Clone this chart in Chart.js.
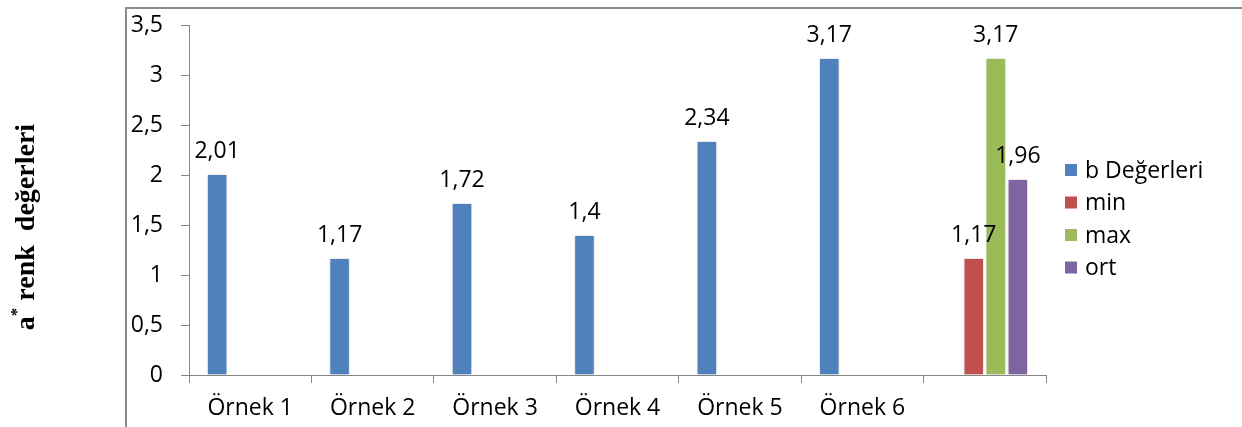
<!DOCTYPE html>
<html lang="tr">
    <head>
        <meta charset="UTF-8" />
        <title>a* renk değerleri</title>
        <script src="https://cdn.jsdelivr.net/npm/chart.js"></script>
        <style>
            html, body { margin: 0; padding: 0; background: #fff; }
            #wrap { width: 1242px; height: 427px; position: relative; }
        </style>
    </head>
    <body>
        <div id="wrap">
            <canvas id="renkChart" width="1242" height="427"></canvas>
        </div>

        <script>
            const categories = ['Örnek 1', 'Örnek 2', 'Örnek 3', 'Örnek 4', 'Örnek 5', 'Örnek 6', ''];
            const bDegerleri = [2.01, 1.17, 1.72, 1.4, 2.34, 3.17, null];
            const minValues = [null, null, null, null, null, null, 1.17];
            const maxValues = [null, null, null, null, null, null, 3.17];
            const ortValues = [null, null, null, null, null, null, 1.96];
            const seriesNames = ['b Değerleri', 'min', 'max', 'ort'];
            const seriesColors = ['#4F81BD', '#C0504D', '#9BBB59', '#8064A2'];

            const FONT = '"Open Sans", "Noto Sans", sans-serif';
            const FONT_SIZE = 23;
            const AXIS_GRAY = '#868686';

            const trNumber = (v) => String(v).replace('.', ',');

            // frame lines around the plot (left + top)
            const framePlugin = {
                id: 'frame',
                beforeDraw(chart) {
                    const ctx = chart.ctx;
                    ctx.save();
                    ctx.strokeStyle = '#8c8c8c';
                    ctx.lineWidth = 2;
                    ctx.beginPath();
                    ctx.moveTo(126, 427);
                    ctx.lineTo(126, 8);
                    ctx.lineTo(1242, 8);
                    ctx.stroke();
                    ctx.restore();
                },
            };

            // soft shadow under the bars
            const barShadow = {
                id: 'barShadow',
                beforeDatasetsDraw(chart) {
                    const ctx = chart.ctx;
                    ctx.save();
                    ctx.shadowColor = 'rgba(0,0,0,0.22)';
                    ctx.shadowBlur = 4;
                },
                afterDatasetsDraw(chart) {
                    chart.ctx.restore();
                },
            };

            // value text above each bar
            const valueLabels = {
                id: 'valueLabels',
                afterDatasetsDraw(chart) {
                    const ctx = chart.ctx;
                    ctx.save();
                    ctx.font = FONT_SIZE + 'px ' + FONT;
                    ctx.fillStyle = '#000';
                    ctx.textAlign = 'center';
                    ctx.textBaseline = 'middle';
                    chart.data.datasets.forEach((ds, i) => {
                        const meta = chart.getDatasetMeta(i);
                        meta.data.forEach((bar, j) => {
                            const v = ds.data[j];
                            if (v === null || v === undefined) return;
                            ctx.fillText(trNumber(v), bar.x, bar.y - 23);
                        });
                    });
                    ctx.restore();
                },
            };

            // legend column on the right
            const sideLegend = {
                id: 'sideLegend',
                afterDraw(chart) {
                    const ctx = chart.ctx;
                    ctx.save();
                    ctx.font = FONT_SIZE + 'px ' + FONT;
                    ctx.textBaseline = 'middle';
                    chart.data.datasets.forEach((ds, i) => {
                        const y = 170 + i * 32.5;
                        ctx.fillStyle = ds.backgroundColor;
                        ctx.fillRect(1065, y - 6, 12, 12);
                        ctx.fillStyle = '#000';
                        ctx.fillText(ds.label, 1085, y + 1);
                    });
                    ctx.restore();
                },
            };

            // rotated axis title with superscript star
            const yTitle = {
                id: 'yTitle',
                afterDraw(chart) {
                    const ctx = chart.ctx;
                    const main = 'bold 28px "Liberation Serif", "DejaVu Serif", serif';
                    const sup = 'bold 17px "Liberation Serif", "DejaVu Serif", serif';
                    const parts = [
                        { t: 'a', f: main, dy: 0 },
                        { t: '*', f: sup, dy: -12 },
                        { t: ' renk  değerleri', f: main, dy: 0 },
                    ];
                    ctx.save();
                    let total = 0;
                    parts.forEach((p) => {
                        ctx.font = p.f;
                        p.w = ctx.measureText(p.t).width;
                        total += p.w;
                    });
                    ctx.translate(34, 227);
                    ctx.rotate(-Math.PI / 2);
                    ctx.fillStyle = '#000';
                    ctx.textBaseline = 'alphabetic';
                    let x = -total / 2;
                    parts.forEach((p) => {
                        ctx.font = p.f;
                        ctx.fillText(p.t, x, p.dy);
                        x += p.w;
                    });
                    ctx.restore();
                },
            };

            const datasetValues = [bDegerleri, minValues, maxValues, ortValues];

            new Chart(document.getElementById('renkChart'), {
                type: 'bar',
                data: {
                    labels: categories,
                    datasets: seriesNames.map((name, i) => ({
                        label: name,
                        data: datasetValues[i],
                        backgroundColor: seriesColors[i],
                        borderColor: '#ffffff',
                        borderWidth: 1,
                        categoryPercentage: 0.72,
                        barPercentage: 0.93,
                    })),
                },
                options: {
                    responsive: false,
                    animation: false,
                    layout: { padding: { top: 25, right: 196, bottom: 0, left: 0 } },
                    plugins: {
                        legend: { display: false },
                        tooltip: { enabled: false },
                    },
                    scales: {
                        x: {
                            afterFit: (s) => { s.height = 52; },
                            grid: {
                                offset: true,
                                drawOnChartArea: false,
                                color: AXIS_GRAY,
                                tickLength: 8,
                            },
                            border: { color: AXIS_GRAY, width: 1 },
                            ticks: {
                                color: '#000',
                                padding: 12,
                                maxRotation: 0,
                                font: { family: FONT, size: FONT_SIZE },
                            },
                        },
                        y: {
                            min: 0,
                            max: 3.5,
                            afterFit: (s) => {
                                s.width = 189;
                                // the tick padding should not push the plot down
                                s.paddingTop = 0;
                                s.paddingBottom = 0;
                            },
                            grid: {
                                drawOnChartArea: false,
                                color: AXIS_GRAY,
                                tickLength: 8,
                            },
                            border: { color: AXIS_GRAY, width: 1 },
                            ticks: {
                                stepSize: 0.5,
                                color: '#000',
                                padding: 18,
                                font: { family: FONT, size: FONT_SIZE },
                                callback: (v) => trNumber(v),
                            },
                        },
                    },
                },
                plugins: [framePlugin, barShadow, valueLabels, sideLegend, yTitle],
            });
        </script>
    </body>
</html>
